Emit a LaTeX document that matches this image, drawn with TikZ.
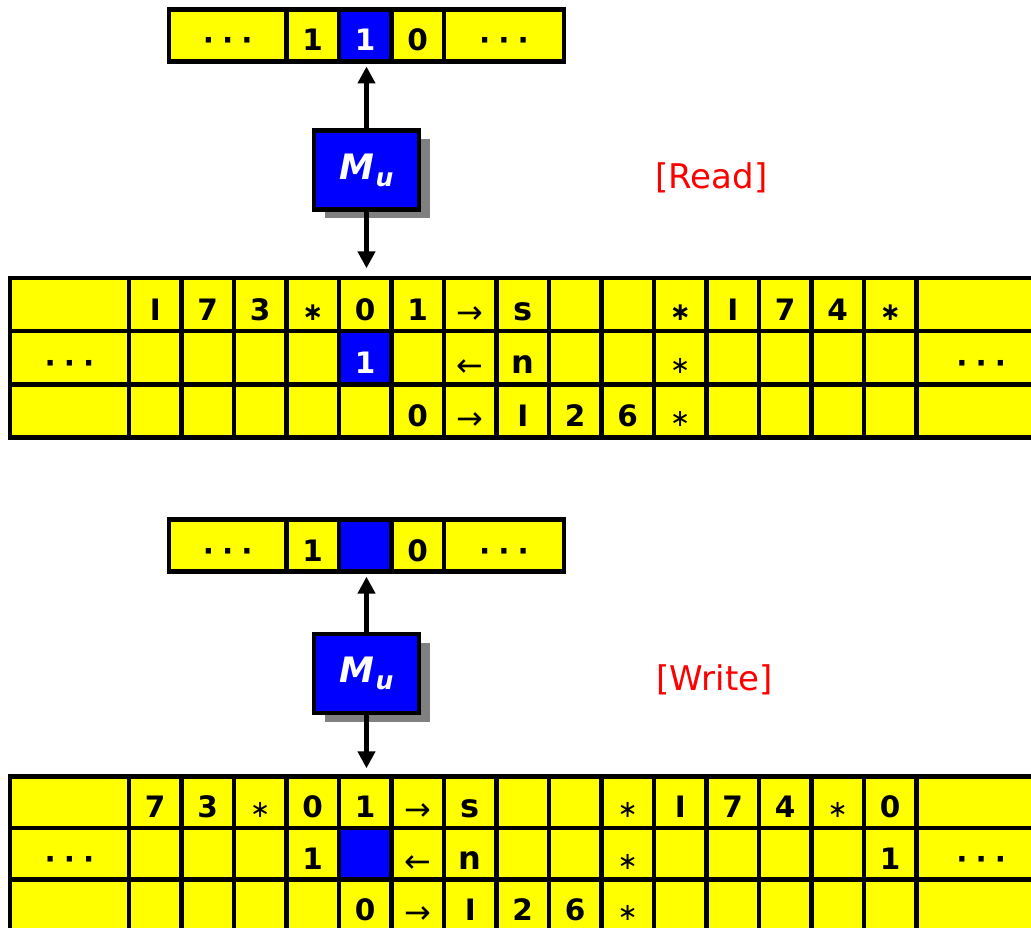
\documentclass[tikz,border=0pt]{standalone}
\usepackage{fontspec}
\setmainfont{DejaVu Sans}[ItalicFont={DejaVu Sans Oblique}, BoldItalicFont={DejaVu Sans Bold Oblique}]
\usepackage{tikz}
\usetikzlibrary{arrows.meta,positioning,shadows}

\definecolor{tapeYellow}{RGB}{255,255,0}
\definecolor{headBlue}{RGB}{0,0,255}
\definecolor{labelRed}{RGB}{255,0,0}

\newcommand{\tpDots}{{·\hspace{8pt}·\hspace{8pt}·\hspace{14pt}}}
\newcommand{\tpRa}{\raisebox{-3pt}{\mdseries\fontsize{32}{32}\selectfont →}}
\newcommand{\tpLa}{\raisebox{-3pt}{\mdseries\fontsize{32}{32}\selectfont ←}}
\newcommand{\tpSb}{{\fontsize{25}{25}\selectfont\bfseries ∗}}
\newcommand{\tpSl}{{\fontsize{24}{24}\selectfont\mdseries ∗}}
\newcommand{\tpBig}[1]{{\fontsize{32}{32}\selectfont #1}}

\tikzset{
  tpCell/.style={draw=black, fill=tapeYellow, line width=4.5pt, anchor=north west,
    inner sep=0pt, outer sep=0pt, minimum width=52.5pt, minimum height=52pt,
    text height=31pt, text depth=0pt, font=\fontsize{29.5}{31}\selectfont\bfseries},
  tpWide/.style={tpCell, minimum width=#1},
  tpHead/.style={tpCell, fill=headBlue, text=white},
  %% Machine box with its grey shadow
  tpMach/.style={draw=black, fill=headBlue, line width=4.5pt, inner sep=0pt,
    minimum width=105pt, minimum height=79pt, text=white,
    font=\fontsize{35}{37}\selectfont\bfseries\itshape,
    drop shadow={shadow xshift=11pt, shadow yshift=-9pt, fill=black!50, opacity=1}},
  tpMove/.style={-{Triangle[width=17pt,length=17pt]}, line width=5pt},
  tpLabel/.style={anchor=base west, text=labelRed, font=\fontsize{34}{36}\selectfont},
}

\begin{document}
\begin{tikzpicture}[x=1pt, y=-1pt]
\path[use as bounding box] (0,0) rectangle (1031,928);
\clip (0,0) rectangle (1031,928);

%% ---------- [Read] ----------
%% Input tape
\node[tpWide=117.5pt] (rtL)    at (169,9.5)   {\tpDots};
\node[tpCell]         (rtA)    at (286.5,9.5) {1};
\node[tpHead]         (rtHead) at (339,9.5)   {1};
\node[tpCell]         (rtB)    at (391.5,9.5) {0};
\node[tpWide=120pt]   (rtR)    at (444,9.5)   {\tpDots};

%% Work tape, three tracks
\begin{scope}[tpCell/.append style={minimum height=53.2pt}]
\node[tpWide=119pt]   (rAL) at (10,278) {};
\foreach \s [count=\i from 0] in {I,7,3,\tpSb,0,1,\tpRa,\tpBig{s},{},{},\tpSb,I,7,4,\tpSb}
  \node[tpCell] (rA\i) at ({129+52.5*\i},278) {\s};
\node[tpWide=129.5pt] (rAR) at (916.5,278) {};

\node[tpWide=119pt]   (rBL) at (10,331.2) {\tpDots};
\foreach \s/\k [count=\i from 0] in {{}/tpCell,{}/tpCell,{}/tpCell,{}/tpCell,1/tpHead,{}/tpCell,\tpLa/tpCell,\tpBig{n}/tpCell,{}/tpCell,{}/tpCell,\tpSl/tpCell,{}/tpCell,{}/tpCell,{}/tpCell,{}/tpCell}
  \node[\k] (rB\i) at ({129+52.5*\i},331.2) {\s};
\node[tpWide=129.5pt] (rBR) at (916.5,331.2) {\tpDots};

\node[tpWide=119pt]   (rCL) at (10,384.4) {};
\foreach \s [count=\i from 0] in {{},{},{},{},{},0,\tpRa,I,2,6,\tpSl,{},{},{},{}}
  \node[tpCell] (rC\i) at ({129+52.5*\i},384.4) {\s};
\node[tpWide=129.5pt] (rCR) at (916.5,384.4) {};
\end{scope}

\node[tpMach] (rMach) at (366.5,170) {M\hspace{1pt}\raisebox{-7pt}{\fontsize{25}{25}\selectfont u}};
\draw[tpMove, shorten >=5pt] (rMach.north) -- (rMach.north |- rtHead.south);
\draw[tpMove, shorten >=9.7pt] (rMach.south) -- (rMach.south |- rA4.north);
\node[tpLabel] (rLabel) at (652,189) {[Read]};

%% ---------- [Write] ----------
%% Input tape
\node[tpWide=117.5pt] (wtL)    at (169,519.5)   {\tpDots};
\node[tpCell]         (wtA)    at (286.5,519.5) {1};
\node[tpHead]         (wtHead) at (339,519.5)   {};
\node[tpCell]         (wtB)    at (391.5,519.5) {0};
\node[tpWide=120pt]   (wtR)    at (444,519.5)   {\tpDots};

%% Work tape, three tracks
\begin{scope}[tpCell/.append style={minimum height=51.5pt}]
\node[tpWide=119pt]   (wAL) at (10,776.5) {};
\foreach \s [count=\i from 0] in {7,3,\tpSl,0,1,\tpRa,\tpBig{s},{},{},\tpSl,I,7,4,\tpSl,0}
  \node[tpCell] (wA\i) at ({129+52.5*\i},776.5) {\s};
\node[tpWide=129.5pt] (wAR) at (916.5,776.5) {};

\node[tpWide=119pt]   (wBL) at (10,828) {\tpDots};
\foreach \s/\k [count=\i from 0] in {{}/tpCell,{}/tpCell,{}/tpCell,1/tpCell,{}/tpHead,\tpLa/tpCell,\tpBig{n}/tpCell,{}/tpCell,{}/tpCell,\tpSl/tpCell,{}/tpCell,{}/tpCell,{}/tpCell,{}/tpCell,1/tpCell}
  \node[\k] (wB\i) at ({129+52.5*\i},828) {\s};
\node[tpWide=129.5pt] (wBR) at (916.5,828) {\tpDots};

\node[tpWide=119pt]   (wCL) at (10,879.5) {};
\foreach \s [count=\i from 0] in {{},{},{},{},0,\tpRa,I,2,6,\tpSl,{},{},{},{},{}}
  \node[tpCell] (wC\i) at ({129+52.5*\i},879.5) {\s};
\node[tpWide=129.5pt] (wCR) at (916.5,879.5) {};
\end{scope}

\node[tpMach] (wMach) at (366.5,673.5) {M\hspace{1pt}\raisebox{-7pt}{\fontsize{25}{25}\selectfont u}};
\draw[tpMove, shorten >=5.2pt] (wMach.north) -- (wMach.north |- wtHead.south);
\draw[tpMove, shorten >=8.2pt] (wMach.south) -- (wMach.south |- wA4.north);
\node[tpLabel] (wLabel) at (653,690) {[Write]};

\end{tikzpicture}
\end{document}
